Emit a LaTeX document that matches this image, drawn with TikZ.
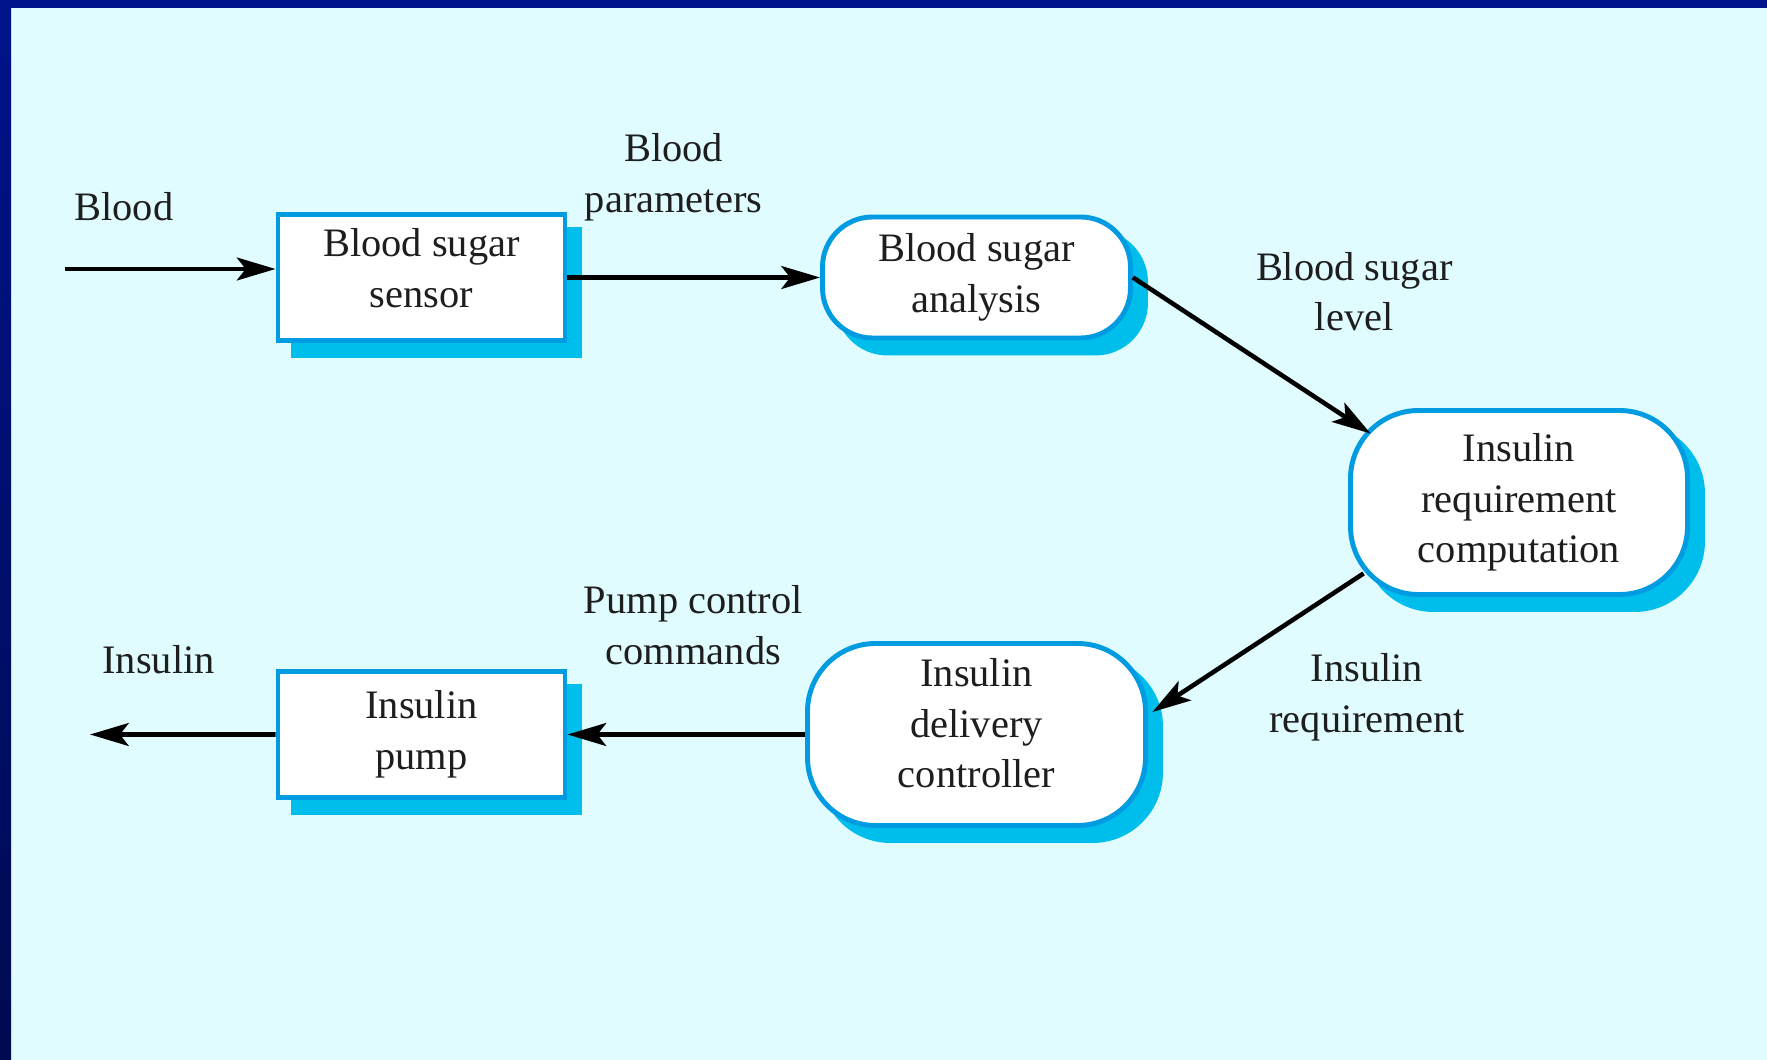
\documentclass[tikz,border=0pt]{standalone}
\usepackage{fontspec}
\setmainfont{Liberation Serif}
\usetikzlibrary{arrows.meta,shadows}

\definecolor{bgcyan}{HTML}{E0FCFF}
\definecolor{topblue}{HTML}{00138A}
\definecolor{botblue}{HTML}{000A50}
\definecolor{edgeblue}{HTML}{009BE0}
\definecolor{shadowblue}{HTML}{00BEEC}
\definecolor{textgray}{HTML}{1E1E1E}

\begin{document}
\begin{tikzpicture}[node distance=5.55cm,
    box node/.style={rectangle, draw=edgeblue, line width=1.4pt, fill=white, align=center,
      minimum width=2.87cm, minimum height=1.26cm, inner ysep=2pt,
      drop shadow={shadow xshift=0.15cm, shadow yshift=-0.15cm, fill=shadowblue, draw=shadowblue, opacity=1}},
    round node/.style={rectangle, rounded corners=#1, draw=edgeblue, line width=1.4pt, fill=white, align=center,
      drop shadow={shadow xshift=0.15cm, shadow yshift=-0.15cm, fill=shadowblue, draw=shadowblue, opacity=1}}]
        \tikzstyle{every node}=[font=\fontsize{11.5}{14.4}\selectfont, text=textgray]

        % frame
        \useasboundingbox (0,0) rectangle (17.67,-10.60);
        \fill[bgcyan] (0,0) rectangle (17.67,-10.60);
        \shade[top color=topblue, bottom color=botblue] (0,0) rectangle (0.11,-10.60);
        \fill[topblue] (0,0) rectangle (17.67,-0.08);

          \node[box node] (sensor) at (4.215,-2.775) {Blood sugar\\sensor\\[-9pt]\mbox{}};
          \node[round node=0.5cm, minimum width=3.08cm, minimum height=1.21cm] (analysis) [right of=sensor] {Blood sugar\\analysis};
          \node[round node=0.68cm, minimum width=3.37cm, minimum height=1.84cm] (computation) [right of=analysis, node distance=5.425cm, yshift=-2.25cm] {Insulin\\requirement\\computation};
          \node[round node=0.68cm, minimum width=3.38cm, minimum height=1.82cm] (controller) [below of=analysis, node distance=4.57cm] {Insulin\\delivery\\controller\\[-8pt]\mbox{}};
          \node[box node] (pump) [left of=controller] {Insulin\\pump};

          \coordinate (bloodin) at (0.65,-2.69);
          \coordinate (insout) at (0.90,-7.345);

          \path[->, >={Stealth[length=11pt,width=6.5pt,inset=2.5pt]}, line width=1.3pt,
                every node/.style={font=\fontsize{11.5}{14.4}\selectfont, inner sep=0pt, align=center, text=textgray}]
            (bloodin) edge node[pos=0.28, yshift=0.62cm] (lblood) {Blood} (bloodin -| sensor.west)
            (sensor) edge node[pos=0.42, yshift=1.0cm] (lparam) {Blood\\parameters} (analysis)
            (analysis.east) edge node[xshift=1.025cm, yshift=0.64cm] (llevel) {Blood sugar\\level}
                ([xshift=0.225cm, yshift=-0.255cm]computation.north west)
            ([xshift=0.155cm, yshift=0.235cm]computation.south west) edge node[xshift=1.09cm, yshift=-0.545cm] (lreq) {Insulin\\requirement}
                ([xshift=0.045cm, yshift=0.225cm]controller.east)
            (controller.west) edge node[pos=0.47, yshift=1.095cm] (lcmd) {Pump control\\commands} (pump.east)
            (pump.west) edge node[pos=0.63, yshift=0.745cm] (lins) {Insulin} (insout);

        \end{tikzpicture}
\end{document}
